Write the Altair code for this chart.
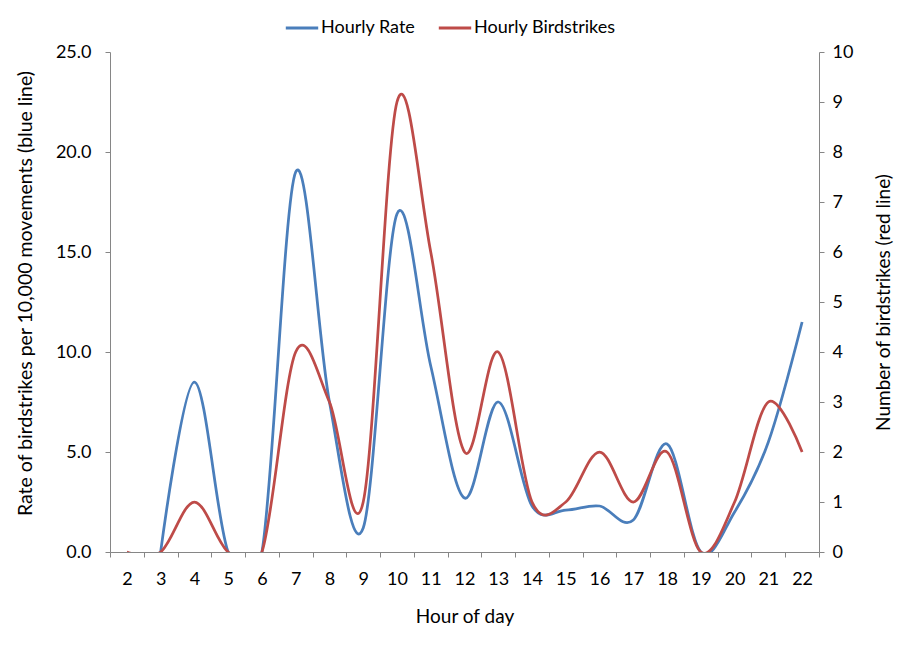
import altair as alt
import pandas as pd

hours = list(range(2, 23))
hourly_rate = [None, 0, 8.5, 0, 0, 19.0, 7.5, 1.2, 16.9, 9.3, 2.7, 7.5, 2.3, 2.1, 2.3, 1.6, 5.4, 0, 2.0, 5.5, 11.5]
hourly_strikes = [0, 0, 1, 0, 0, 4, 3, 1, 9, 6, 2, 4, 1, 1, 2, 1, 2, 0, 1, 3, 2]
series_names = ["Hourly Rate", "Hourly Birdstrikes"]
series_colors = ["#4a7ebb", "#be4b48"]
left_ticks = [0, 5, 10, 15, 20, 25]
right_ticks = list(range(0, 11))

df = pd.DataFrame({"hour": hours, "rate": hourly_rate, "strikes": hourly_strikes})

FONT = "Lato"
AXIS_GREY = "#868686"

x_enc = alt.X(
    "hour:O",
    title="Hour of day",
    scale=alt.Scale(type="band", paddingInner=0, paddingOuter=0),
    axis=alt.Axis(labelAngle=0, tickBand="extent", labelPadding=13, titlePadding=19),
)
color_scale = alt.Scale(domain=series_names, range=series_colors)
legend = alt.Legend(
    title=None,
    orient="none",
    legendX=174,
    legendY=-42,
    direction="horizontal",
    symbolType="stroke",
    symbolSize=1050,
    symbolStrokeWidth=3,
    labelFontSize=18,
    labelFont=FONT,
    labelColor="#000000",
    labelOffset=1,
    columnPadding=16,
    padding=0,
)
color_enc = alt.Color("series:N", scale=color_scale, legend=legend)

base = alt.Chart(df)

rate_line = base.transform_calculate(series=f"'{series_names[0]}'").mark_line(
    interpolate="cardinal", tension=0, strokeWidth=2.75, clip=True
).encode(
    x=x_enc,
    y=alt.Y(
        "rate:Q",
        scale=alt.Scale(domain=[0, 25], nice=False, zero=True),
        axis=alt.Axis(
            orient="left",
            values=left_ticks,
            format=".1f",
            title="Rate of birdstrikes per 10,000 movements (blue line)",
            titleFontSize=19.5,
            titleY=241,
            labelPadding=14,
            titlePadding=20,
        ),
    ),
    color=color_enc,
)

strike_line = base.transform_calculate(series=f"'{series_names[1]}'").mark_line(
    interpolate="cardinal", tension=0, strokeWidth=2.75, clip=True
).encode(
    x=x_enc,
    y=alt.Y(
        "strikes:Q",
        scale=alt.Scale(domain=[0, 10], nice=False, zero=True),
        axis=alt.Axis(
            orient="right",
            values=right_ticks,
            format="d",
            title="Number of birdstrikes (red line)",
            titleAngle=270,
            labelPadding=8,
            titlePadding=41,
        ),
    ),
    color=color_enc,
)

chart = (
    alt.layer(rate_line, strike_line)
    .resolve_scale(y="independent")
    .properties(
        width=709,
        height=500,
        autosize=alt.AutoSizeParams(type="none"),
        padding={"left": 110, "top": 52, "right": 80, "bottom": 93},
        background="white",
    )
    .configure_view(stroke=None)
    .configure_axis(
        grid=False,
        domainColor=AXIS_GREY,
        tickColor=AXIS_GREY,
        tickSize=5,
        labelFont=FONT,
        titleFont=FONT,
        labelFontSize=18,
        titleFontSize=19,
        titleFontWeight="normal",
        labelColor="#000000",
        titleColor="#000000",
    )
)

chart.save("out.html", embed_options={"renderer": "svg", "actions": False})
